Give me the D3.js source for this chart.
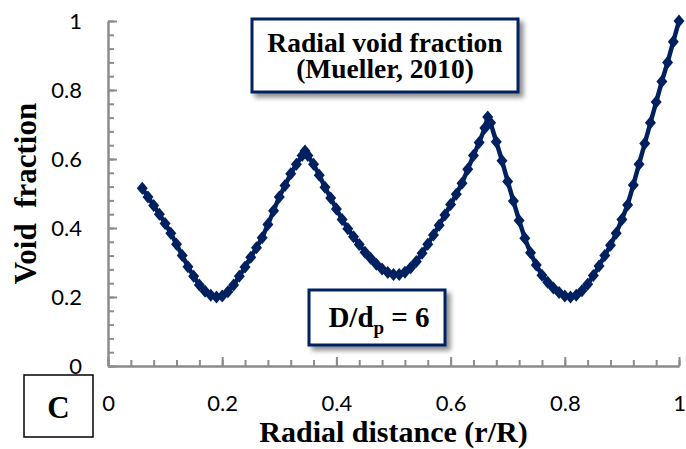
<!DOCTYPE html>
<html>
<head>
<meta charset="utf-8">
<script src="https://cdn.jsdelivr.net/npm/d3@7/dist/d3.min.js"></script>
<style>
  html, body { margin: 0; padding: 0; background: #fff; }
  svg { display: block; }
</style>
</head>
<body>
<svg id="chart" width="686" height="449"></svg>
<script>
// Radial positions r/R
const radialPos = [
  0.06, 0.07, 0.08, 0.09, 0.10, 0.11, 0.12, 0.13, 0.14, 0.15, 0.16, 0.17, 0.18, 0.19,
  0.20, 0.21, 0.22, 0.23, 0.24, 0.25, 0.26, 0.27, 0.28, 0.29, 0.30, 0.31, 0.32, 0.33, 0.34, 0.345,
  0.35, 0.36, 0.37, 0.38, 0.39, 0.40, 0.41, 0.42, 0.43, 0.44, 0.45, 0.46, 0.47, 0.48, 0.49, 0.50, 0.51,
  0.52, 0.53, 0.54, 0.55, 0.56, 0.57, 0.58, 0.59, 0.60, 0.61, 0.62, 0.63, 0.64, 0.65, 0.66, 0.665,
  0.67, 0.68, 0.69, 0.70, 0.71, 0.72, 0.73, 0.74, 0.75, 0.76, 0.77, 0.78, 0.79, 0.80, 0.81,
  0.82, 0.83, 0.84, 0.85, 0.86, 0.87, 0.88, 0.89, 0.90, 0.91, 0.92, 0.93, 0.94, 0.95, 0.96, 0.97, 0.98, 0.99, 1.00
];
// Void fraction at each radial position
const voidFraction = [
  0.515, 0.490, 0.465, 0.440, 0.413, 0.385, 0.353, 0.320, 0.288, 0.260, 0.235, 0.217, 0.205, 0.200,
  0.203, 0.215, 0.235, 0.260, 0.287, 0.315, 0.343, 0.372, 0.410, 0.450, 0.490, 0.523, 0.557, 0.585, 0.610, 0.623,
  0.610, 0.585, 0.553, 0.518, 0.487, 0.455, 0.425, 0.398, 0.375, 0.352, 0.330, 0.312, 0.295, 0.281, 0.271, 0.265, 0.265,
  0.272, 0.285, 0.303, 0.327, 0.353, 0.380, 0.408, 0.438, 0.468, 0.498, 0.530, 0.570, 0.610, 0.648, 0.690, 0.722,
  0.705, 0.650, 0.595, 0.535, 0.478, 0.422, 0.370, 0.328, 0.293, 0.263, 0.243, 0.226, 0.213, 0.203, 0.200,
  0.205, 0.218, 0.237, 0.262, 0.290, 0.320, 0.350, 0.385, 0.425, 0.467, 0.525, 0.585, 0.645, 0.705, 0.765, 0.825, 0.880, 0.940, 1.000
];
const xTicks = [0, 0.2, 0.4, 0.6, 0.8, 1];
const xTickLabels = ["0", "0.2", "0.4", "0.6", "0.8", "1"];
const yTicks = [0, 0.2, 0.4, 0.6, 0.8, 1];
const yTickLabels = ["0", "0.2", "0.4", "0.6", "0.8", "1"];
const minorTicks = [0, 0.04, 0.08, 0.12, 0.16, 0.2, 0.24, 0.28, 0.32, 0.36, 0.4, 0.44, 0.48,
  0.52, 0.56, 0.6, 0.64, 0.68, 0.72, 0.76, 0.8, 0.84, 0.88, 0.92, 0.96, 1];

const svg = d3.select("#chart");
const margin = { left: 108, right: 7, top: 21, bottom: 83 };
const W = 686, H = 449;

const x = d3.scaleLinear().domain([0, 1]).range([margin.left, W - margin.right]);
const y = d3.scaleLinear().domain([0, 1]).range([H - margin.bottom, margin.top]);

const axisColor = "#8c8c8c";
const navy = "#002060";
const serif = "'Liberation Serif', 'Times New Roman', serif";
const sans = "Lato, 'Open Sans', sans-serif";

// drop shadow for the annotation boxes
const defs = svg.append("defs");
const f = defs.append("filter").attr("id", "shadow")
  .attr("x", "-10%").attr("y", "-10%").attr("width", "130%").attr("height", "140%");
f.append("feDropShadow").attr("dx", 4).attr("dy", 4).attr("stdDeviation", 2.5)
  .attr("flood-color", "#000").attr("flood-opacity", 0.45);

// minor ticks
const yMinor = svg.append("g").attr("transform", `translate(${x(0)},0)`)
  .call(d3.axisLeft(y).tickValues(minorTicks).tickSizeInner(-6).tickSizeOuter(0).tickFormat(""));
const xMinor = svg.append("g").attr("transform", `translate(0,${y(0)})`)
  .call(d3.axisBottom(x).tickValues(minorTicks).tickSizeInner(-6).tickSizeOuter(0).tickFormat(""));

// major ticks with labels
const yAxis = svg.append("g").attr("transform", `translate(${x(0)},0)`)
  .call(d3.axisLeft(y).tickValues(yTicks).tickSizeInner(-9).tickSizeOuter(0).tickPadding(26)
    .tickFormat((d, i) => yTickLabels[i]));
const xAxis = svg.append("g").attr("transform", `translate(0,${y(0)})`)
  .call(d3.axisBottom(x).tickValues(xTicks).tickSizeInner(-9).tickSizeOuter(0).tickPadding(29)
    .tickFormat((d, i) => xTickLabels[i]));

[yMinor, xMinor, yAxis, xAxis].forEach(g => {
  g.selectAll("path.domain").attr("stroke", axisColor).attr("stroke-width", 2);
  g.selectAll(".tick line").attr("stroke", axisColor).attr("stroke-width", 2);
  g.selectAll(".tick text").attr("fill", "#000").style("font-family", sans).style("font-size", "22px");
});

// axis titles
svg.append("text")
  .attr("transform", `translate(36,${(y(0) + y(1)) / 2}) rotate(-90)`)
  .attr("text-anchor", "middle")
  .style("font-family", serif).style("font-weight", "bold").style("font-size", "31px")
  .attr("xml:space", "preserve")
  .text("Void  fraction");

svg.append("text")
  .attr("x", (x(0) + x(1)) / 2).attr("y", 442)
  .attr("text-anchor", "middle")
  .style("font-family", serif).style("font-weight", "bold").style("font-size", "30px")
  .text("Radial distance (r/R)");

// data series
const pts = radialPos.map((r, i) => [r, voidFraction[i]]);
svg.append("path")
  .datum(pts)
  .attr("fill", "none").attr("stroke", navy).attr("stroke-width", 4.5).attr("stroke-linejoin", "round")
  .attr("d", d3.line().x(d => x(d[0])).y(d => y(d[1])));

const diamond = "M0,-6.5L5.5,0L0,6.5L-5.5,0Z";
svg.append("g").selectAll("path")
  .data(pts).join("path")
  .attr("d", diamond)
  .attr("transform", d => `translate(${x(d[0])},${y(d[1])})`)
  .attr("fill", navy);

// title box
svg.append("rect")
  .attr("x", 252).attr("y", 19).attr("width", 266).attr("height", 73)
  .attr("fill", "#fff").attr("stroke", navy).attr("stroke-width", 3)
  .attr("filter", "url(#shadow)");
const tb = svg.append("text").attr("text-anchor", "middle")
  .style("font-family", serif).style("font-weight", "bold").style("font-size", "27.5px");
tb.append("tspan").attr("x", 385).attr("y", 52).text("Radial void fraction");
tb.append("tspan").attr("x", 385).attr("y", 78).text("(Mueller, 2010)");

// ratio box
svg.append("rect")
  .attr("x", 309).attr("y", 290).attr("width", 136).attr("height", 55)
  .attr("fill", "#fff").attr("stroke", navy).attr("stroke-width", 3)
  .attr("filter", "url(#shadow)");
const rb = svg.append("text").attr("x", 379).attr("y", 327).attr("text-anchor", "middle")
  .style("font-family", serif).style("font-weight", "bold").style("font-size", "29px");
rb.append("tspan").text("D/d");
rb.append("tspan").attr("dy", 7).style("font-size", "19px").text("p");
rb.append("tspan").attr("dy", -7).text(" = 6");

// panel letter box
svg.append("rect")
  .attr("x", 24).attr("y", 375).attr("width", 69).attr("height", 62)
  .attr("fill", "#fff").attr("stroke", "#000").attr("stroke-width", 1.5);
svg.append("text")
  .attr("x", 58.5).attr("y", 418).attr("text-anchor", "middle")
  .style("font-family", serif).style("font-weight", "bold").style("font-size", "31px")
  .text("C");
</script>
</body>
</html>
